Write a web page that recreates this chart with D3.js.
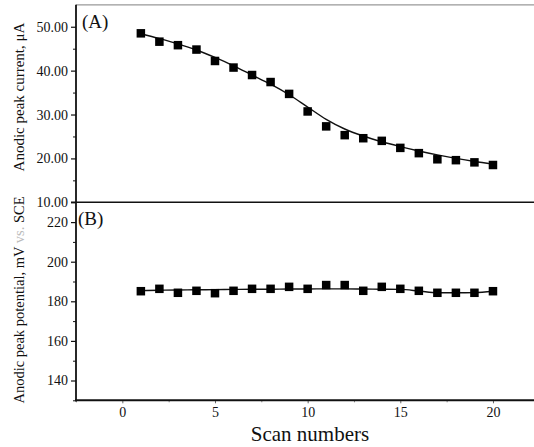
<!DOCTYPE html>
<html>
<head>
<meta charset="utf-8">
<script src="https://cdn.jsdelivr.net/npm/d3@7"></script>
<style>
  html, body { margin: 0; padding: 0; background: #fff; }
  svg { display: block; }
  text { font-family: "Liberation Serif", "Times New Roman", serif; fill: #111; }
</style>
</head>
<body>
<svg id="chart" width="534" height="447"></svg>
<script>
// ---- Data ----
const scans = [1,2,3,4,5,6,7,8,9,10,11,12,13,14,15,16,17,18,19,20];
const currentValues = [48.5,46.6,45.8,44.8,42.2,40.7,39.0,37.4,34.7,30.7,27.3,25.3,24.6,24.0,22.4,21.2,19.8,19.6,19.1,18.5];
const currentFit = [48.4,47.3,46.1,44.7,43.0,41.1,39.0,36.9,34.5,31.7,28.9,26.7,25.1,23.8,22.7,21.7,20.8,20.0,19.3,18.7];
const potentialValues = [185.1,186.3,184.3,185.3,184.1,185.3,186.3,186.3,187.3,186.3,188.2,188.2,185.3,187.3,186.3,185.3,184.3,184.3,184.3,185.1];
const potentialFit = [185.4,185.6,185.7,185.8,185.9,186.0,186.1,186.1,186.2,186.2,186.3,186.3,186.2,186.1,186.0,185.2,184.3,184.3,184.4,185.1];
const xMajorTicks = [0,5,10,15,20];
const xMinorTicks = [-2.5,2.5,7.5,12.5,17.5,22.5];
const topMajorTicks = [10,20,30,40,50];
const topMinorTicks = [15,25,35,45];
const botMajorTicks = [140,160,180,200,220];
const botMinorTicks = [130,150,170,190,210];
const xTitle = "Scan numbers";
const topTitle = "Anodic peak current, \u03bcA";
const botTitlePre = "Anodic peak potential, mV ";
const botTitleVs = "vs.";
const botTitlePost = " SCE";

// ---- Layout ----
const svg = d3.select("#chart");
const left = 76, right = 539.3;
const x = d3.scaleLinear().domain([-2.5, 22.5]).range([left, right]);
const yTop = d3.scaleLinear().domain([10, 55]).range([202.3, 4.8]);
const yBot = d3.scaleLinear().domain([130, 230]).range([400.3, 202.3]);

const fontTick = 14;

// top border
svg.append("line").attr("x1", left).attr("x2", 534).attr("y1", yTop(55)).attr("y2", yTop(55))
  .attr("stroke", "#999").attr("stroke-width", 1.2);

// ---- Y axes ----
function yAxisGroup(scale, majors, minors, fmt) {
  const g = svg.append("g").attr("transform", `translate(${left},0)`);
  g.call(d3.axisLeft(scale).tickValues(majors).tickFormat(fmt).tickSize(5).tickPadding(3));
  g.call(gg => gg.select(".domain").remove());
  g.selectAll(".tick line").attr("stroke", "#111").attr("stroke-width", 1.2);
  g.selectAll(".tick text").attr("font-size", fontTick).attr("font-family", "Liberation Serif").attr("fill", "#111");
  const gm = svg.append("g").attr("transform", `translate(${left},0)`);
  gm.call(d3.axisLeft(scale).tickValues(minors).tickFormat("").tickSize(3));
  gm.call(gg => gg.select(".domain").remove());
  gm.selectAll(".tick line").attr("stroke", "#111").attr("stroke-width", 1);
}
yAxisGroup(yTop, topMajorTicks, topMinorTicks, d3.format(".2f"));
yAxisGroup(yBot, botMajorTicks, botMinorTicks, d3.format("d"));

// ---- X axis ----
const gx = svg.append("g").attr("transform", `translate(0,${yBot(130)})`);
gx.call(d3.axisBottom(x).tickValues(xMajorTicks).tickFormat(d3.format("d")).tickSize(3).tickPadding(4));
gx.call(g => g.select(".domain").remove());
gx.selectAll(".tick line").attr("stroke", "#666").attr("stroke-width", 1);
gx.selectAll(".tick text").attr("font-size", fontTick).attr("font-family", "Liberation Serif").attr("fill", "#111");
const gxm = svg.append("g").attr("transform", `translate(0,${yBot(130)})`);
gxm.call(d3.axisBottom(x).tickValues(xMinorTicks).tickFormat("").tickSize(2));
gxm.call(g => g.select(".domain").remove());
gxm.selectAll(".tick line").attr("stroke", "#888").attr("stroke-width", 1);

// axis lines
svg.append("line").attr("x1", left).attr("x2", left).attr("y1", yTop(55)).attr("y2", yBot(130) + 1)
  .attr("stroke", "#111").attr("stroke-width", 1.8);
svg.append("line").attr("x1", left - 5).attr("x2", 534).attr("y1", yTop(10)).attr("y2", yTop(10))
  .attr("stroke", "#111").attr("stroke-width", 1.6);
svg.append("line").attr("x1", left - 1).attr("x2", 534).attr("y1", yBot(130)).attr("y2", yBot(130))
  .attr("stroke", "#111").attr("stroke-width", 2);

// ---- Series ----
const lineTop = d3.line().x((d, i) => x(scans[i])).y(d => yTop(d)).curve(d3.curveMonotoneX);
svg.append("path").datum(currentFit).attr("d", lineTop).attr("fill", "none")
  .attr("stroke", "#111").attr("stroke-width", 1.4);
const lineBot = d3.line().x((d, i) => x(scans[i])).y(d => yBot(d)).curve(d3.curveMonotoneX);
svg.append("path").datum(potentialFit).attr("d", lineBot).attr("fill", "none")
  .attr("stroke", "#111").attr("stroke-width", 1.4);

const ms = 8.5;
svg.append("g").selectAll("rect").data(currentValues).join("rect")
  .attr("x", (d, i) => x(scans[i]) - ms / 2).attr("y", d => yTop(d) - ms / 2)
  .attr("width", ms).attr("height", ms).attr("fill", "#000");
svg.append("g").selectAll("rect").data(potentialValues).join("rect")
  .attr("x", (d, i) => x(scans[i]) - ms / 2).attr("y", d => yBot(d) - ms / 2)
  .attr("width", ms).attr("height", ms).attr("fill", "#000");

// ---- Panel labels ----
svg.append("text").attr("x", 82).attr("y", 28).attr("font-size", 19).text("(A)");
svg.append("text").attr("x", 78).attr("y", 225).attr("font-size", 19).text("(B)");

// ---- Titles ----
svg.append("text").attr("x", 310).attr("y", 441).attr("text-anchor", "middle")
  .attr("font-size", 21).text(xTitle);
svg.append("text").attr("transform", "translate(24,97) rotate(-90)").attr("text-anchor", "middle")
  .attr("font-size", 15).text(topTitle);
const bt = svg.append("text").attr("transform", "translate(24,300) rotate(-90)").attr("text-anchor", "middle")
  .attr("font-size", 14.5);
bt.append("tspan").text(botTitlePre);
bt.append("tspan").attr("fill", "#bbb").text(botTitleVs);
bt.append("tspan").text(botTitlePost);
</script>
</body>
</html>
